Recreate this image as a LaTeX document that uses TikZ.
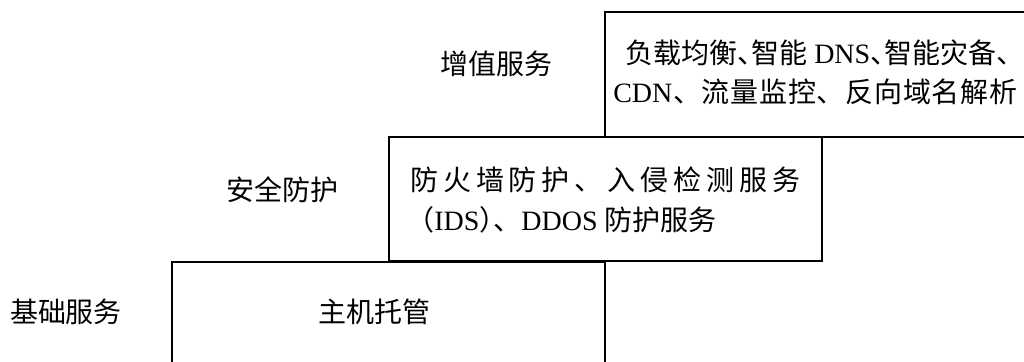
\documentclass[tikz,border=0pt]{standalone}
\usepackage{fontspec}
\setmainfont{Liberation Serif}
\newfontfamily\cjk{Noto Sans CJK SC}
\newcommand\hcomma{\makebox[0.5em][l]{\cjk 、}}
\newcommand\hrparen{\makebox[0.5em][l]{\cjk ）}}
\begin{document}
\begin{tikzpicture}[x=0.75pt,y=-0.75pt,
  boxstyle/.style={draw=black,line width=1.3pt,rectangle,inner sep=0pt},
  txt/.style={inner sep=0pt,font=\fontsize{21pt}{25pt}\selectfont,text=black},
  lbl/.style={txt,anchor=center},
  linew/.style={txt,anchor=west}]
\useasboundingbox (0,0) rectangle (1024,361);
\clip (0,0) rectangle (1024,361);
% boxes
\node[boxstyle,minimum width=324.75pt,minimum height=103.5pt] (base) at (388.5,331) {};
\node[boxstyle,minimum width=324.75pt,minimum height=93pt] (sec) at (605.5,199) {};
\node[boxstyle,minimum width=330pt,minimum height=93.75pt] (vas) at (825,74.5) {};
% left labels
\node[lbl] (lvas) at (496,64) {\cjk 增值服务};
\node[lbl] (lsec) at (282,190) {\cjk 安全防护};
\node[lbl] (lbase) at (66,312) {\cjk 基础服务};
% box texts
\node[lbl] (tbase) at (374.5,312) {\cjk 主机托管};
\node[linew] (tsec1) at (410,180) {\makebox[292.5pt][s]{\cjk 防\hfill 火\hfill 墙\hfill 防\hfill 护\hfill 、\hfill 入\hfill 侵\hfill 检\hfill 测\hfill 服\hfill 务}};
\node[linew] (tsec2) at (406,220) {{\cjk （}IDS\hrparen{\cjk 、}DDOS {\cjk 防护服务}};
\node[linew] (tvas1) at (625,53) {{\cjk 负载均衡}\hcomma{\cjk 智能} DNS\hcomma{\cjk 智能灾备、}};
\node[linew] (tvas2) at (613,92) {\makebox[303pt][s]{CDN\hfill{\cjk 、}\hfill{\cjk 流}\hfill{\cjk 量}\hfill{\cjk 监}\hfill{\cjk 控}\hfill{\cjk 、}\hfill{\cjk 反}\hfill{\cjk 向}\hfill{\cjk 域}\hfill{\cjk 名}\hfill{\cjk 解}\hfill{\cjk 析}}};
\end{tikzpicture}
\end{document}
